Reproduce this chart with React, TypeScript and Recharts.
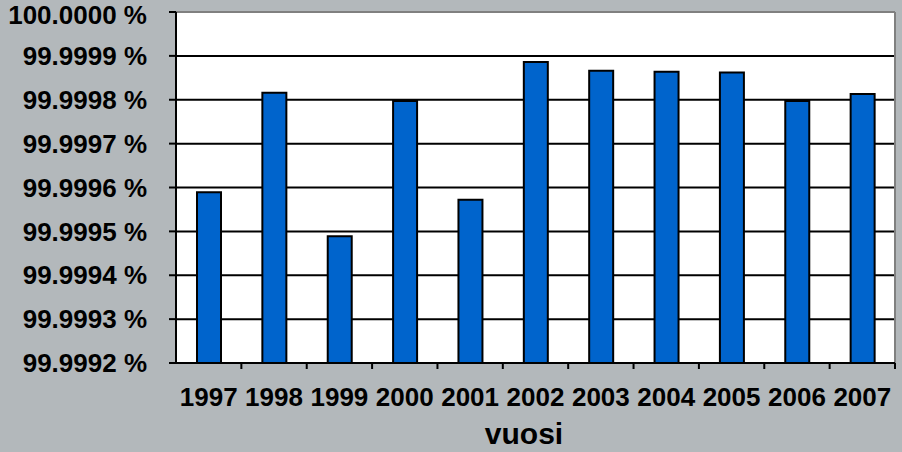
import React from 'react';
import {
  BarChart,
  Bar,
  XAxis,
  YAxis,
  CartesianGrid,
  ReferenceLine
} from 'recharts';

const years = ['1997', '1998', '1999', '2000', '2001', '2002', '2003', '2004', '2005', '2006', '2007'];
const availability = [
  99.999589, 99.999816, 99.999489, 99.999797, 99.999572, 99.999886,
  99.999866, 99.999864, 99.999862, 99.999797, 99.999813
];
const yTicks = [99.9992, 99.9993, 99.9994, 99.9995, 99.9996, 99.9997, 99.9998, 99.9999, 100.0];
const xTitle = 'vuosi';

const data = years.map((year, i) => ({ year, value: availability[i] }));

const W = 902;
const H = 452;
const PLOT_LEFT = 176;
const PLOT_RIGHT = 7;
const BAND = (W - PLOT_LEFT - PLOT_RIGHT) / years.length;
const FONT = '"Liberation Sans", Arial, sans-serif';

// Excel-style category tick: mark on the right boundary, label centred
const YearTick = (props: any) => {
  const { x, y, payload } = props;
  return (
    <g>
      <line x1={x + BAND / 2} y1={y} x2={x + BAND / 2} y2={y + 6} stroke="#000" strokeWidth={2} />
      <text x={x} y={y + 43} textAnchor="middle" fontSize={26} fontWeight="bold" fontFamily={FONT} fill="#000">
        {payload.value}
      </text>
    </g>
  );
};

export default function App() {
  return (
    <div style={{ position: 'fixed', left: 0, top: 0, width: W, height: H, background: '#b3b8bb', overflow: 'hidden' }}>
      <BarChart
        width={W}
        height={H}
        data={data}
        margin={{ top: 12, right: PLOT_RIGHT, left: 0, bottom: 59 }}
      >
        <CartesianGrid
          vertical={false}
          horizontalValues={yTicks.slice(0, -1)}
          stroke="#000"
          strokeWidth={2}
          fill="#fff"
          fillOpacity={1}
        />
        <ReferenceLine y={100} stroke="#808080" strokeWidth={2} />
        <ReferenceLine x="2007" position="end" stroke="#808080" strokeWidth={2} />
        <XAxis
          dataKey="year"
          height={30}
          tickLine={false}
          tickSize={0}
          tickMargin={0}
          axisLine={{ stroke: '#000', strokeWidth: 2 }}
          tick={<YearTick />}
          interval={0}
        />
        <YAxis
          width={PLOT_LEFT}
          domain={[99.9992, 100]}
          ticks={yTicks}
          allowDataOverflow
          tickSize={7}
          tickMargin={22}
          axisLine={{ stroke: '#000', strokeWidth: 2 }}
          tickLine={{ stroke: '#000', strokeWidth: 2 }}
          tickFormatter={(v: number) => `${v.toFixed(4)} %`}
          tick={{ fill: '#000', fontSize: 26, fontWeight: 'bold', fontFamily: FONT }}
        />
        <Bar
          dataKey="value"
          fill="#0064cc"
          stroke="#000"
          strokeWidth={2}
          barSize={24}
          isAnimationActive={false}
        />
      </BarChart>
      <div
        style={{
          position: 'absolute',
          left: 424,
          width: 200,
          top: 421,
          textAlign: 'center',
          fontFamily: FONT,
          fontWeight: 'bold',
          fontSize: 30,
          lineHeight: '26px',
          color: '#000'
        }}
      >
        {xTitle}
      </div>
    </div>
  );
}
